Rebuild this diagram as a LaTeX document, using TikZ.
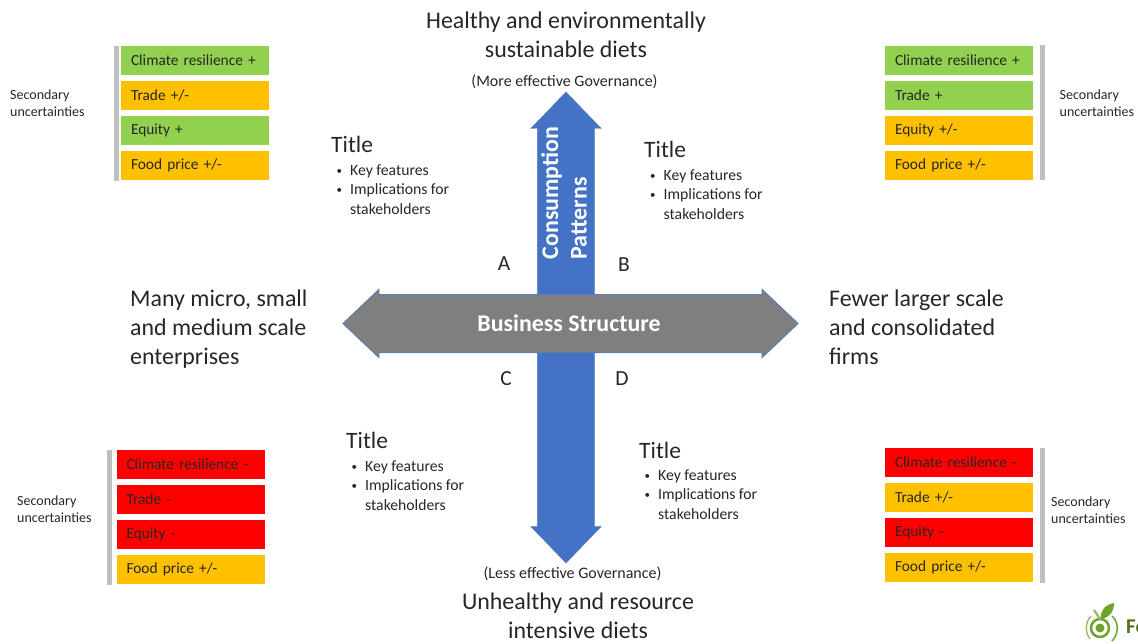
\documentclass[tikz,border=0pt]{standalone}
\usepackage{xcolor}
\usepackage{fontspec}
\setmainfont{Carlito}
\usepackage{tikz}
\usetikzlibrary{shapes.arrows}

\definecolor{okgreen}{HTML}{92D050}
\definecolor{midamber}{HTML}{FFC000}
\definecolor{badred}{HTML}{FF0000}
\definecolor{axisblue}{HTML}{4472C4}
\definecolor{axisgrey}{HTML}{7F7F7F}
\definecolor{axisedge}{HTML}{5B7DB1}
\definecolor{bargrey}{HTML}{BFBFBF}
\definecolor{inkgrey}{HTML}{262626}
\definecolor{logogreen}{HTML}{6FA32B}

\newcommand{\keydot}{\makebox[13.5pt][l]{\fontsize{11}{11}\selectfont\raisebox{1pt}{\textbullet}}}
\newcommand{\keylist}{\begin{tabular}{@{}l@{}l@{}}
\keydot & Key features\\
\keydot & Implications for\\
 & stakeholders
\end{tabular}}

\begin{document}
\begin{tikzpicture}[x=1pt,y=-1pt,node distance = 35pt,
  ubox/.style={rectangle,minimum width=148pt,minimum height=29pt,inner sep=0pt,text width=128pt,align=left,
    font=\fontsize{15.4}{18}\selectfont,text=inkgrey},
  vbar/.style={rectangle,fill=bargrey,minimum width=5pt,minimum height=135pt,inner sep=0pt},
  side/.style={align=left,anchor=west,inner sep=0pt,font=\fontsize{14}{17}\selectfont,text=inkgrey},
  big/.style={align=center,inner sep=0pt,font=\fontsize{23.9}{29}\selectfont,text=inkgrey},
  bigleft/.style={big,align=left,anchor=west},
  gov/.style={inner sep=0pt,font=\fontsize{16}{19}\selectfont,text=inkgrey},
  ttl/.style={inner sep=0pt,anchor=west,font=\fontsize{23.5}{28}\selectfont,text=inkgrey},
  keys/.style={inner sep=0pt,anchor=north west,font=\fontsize{15.7}{19.5}\selectfont,text=inkgrey},
  corner/.style={inner sep=0pt,font=\fontsize{21.5}{25}\selectfont,text=inkgrey},
  axistext/.style={inner sep=0pt,text=white,font=\bfseries\fontsize{23.9}{28.5}\selectfont}]
\useasboundingbox (0,0) rectangle (1138,643);

\node[double arrow,double arrow head extend=6.5pt,double arrow tip angle=88,fill=axisblue,draw=axisedge,inner xsep=0pt,inner ysep=28.5pt,
  minimum height=471pt,rotate=90] (V) at (566,327.5) {};
\node[double arrow,double arrow head extend=5pt,double arrow tip angle=87,fill=axisgrey,draw=axisedge,line width=1pt,inner xsep=0pt,inner ysep=28.5pt,
  minimum height=455pt] (H) at (570.5,323.5) {};
\node[axistext] (Hlabel) at (569,323.5) {Business Structure};
\node[axistext,align=left,rotate=90] (Vlabel) at (564,193) {Consumption\\Patterns};

\node[big] (Top) at (566,35) {Healthy and environmentally\\sustainable diets};
\node[gov] (More) at (564.5,82) {(More effective Governance)};
\node[gov] (Less) at (572.5,574) {(Less effective Governance)};
\node[big] (Bot) at (578,615.5) {Unhealthy and resource\\intensive diets};
\node[bigleft] (Left) at (130,329) {Many micro, small\\and medium scale\\enterprises};
\node[bigleft] (Right) at (829,327) {Fewer larger scale\\and consolidated\\firms};

\node[corner] (A) at (504,264) {A};
\node[corner] (B) at (624,265) {B};
\node[corner] (C) at (506,379) {C};
\node[corner] (D) at (622,379) {D};

\node[ttl] (TitleA) at (331,144) {Title};
\node[keys] (KeysA) at (336.5,161.5) {\keylist};
\node[ttl] (TitleB) at (644,149) {Title};
\node[keys] (KeysB) at (650,166.5) {\keylist};
\node[ttl] (TitleC) at (346,440) {Title};
\node[keys] (KeysC) at (351.5,457.5) {\keylist};
\node[ttl] (TitleD) at (639,450) {Title};
\node[keys] (KeysD) at (644.5,466.5) {\keylist};

% top left
\node[ubox,fill=okgreen] (A1) at (195,60.5) {Climate resilience +};
\node[ubox,fill=midamber] (A2) [below of = A1] {Trade +/-};
\node[ubox,fill=okgreen] (A3) [below of = A2] {Equity +};
\node[ubox,fill=midamber] (A4) [below of = A3] {Food price +/-};
\node[vbar] (Abar) at (116.5,113.5) {};
\node[side] (Aside) at (10,103.5) {Secondary\\uncertainties};

% top right
\node[ubox,fill=okgreen] (B1) at (959,60) {Climate resilience +};
\node[ubox,fill=okgreen] (B2) [below of = B1] {Trade +};
\node[ubox,fill=midamber] (B3) [below of = B2] {Equity +/-};
\node[ubox,fill=midamber] (B4) [below of = B3] {Food price +/-};
\node[vbar] (Bbar) at (1042.5,112.5) {};
\node[side] (Bside) at (1059.5,103.5) {Secondary\\uncertainties};

% bottom left
\node[ubox,fill=badred] (C1) at (190.5,464.5) {Climate resilience -};
\node[ubox,fill=badred] (C2) [below of = C1] {Trade -};
\node[ubox,fill=badred] (C3) [below of = C2] {Equity -};
\node[ubox,fill=midamber] (C4) [below of = C3] {Food price +/-};
\node[vbar] (Cbar) at (109.5,517.5) {};
\node[side] (Cside) at (17,509) {Secondary\\uncertainties};

% bottom right
\node[ubox,fill=badred] (D1) at (959,462.5) {Climate resilience -};
\node[ubox,fill=midamber] (D2) [below of = D1] {Trade +/-};
\node[ubox,fill=badred] (D3) [below of = D2] {Equity -};
\node[ubox,fill=midamber] (D4) [below of = D3] {Food price +/-};
\node[vbar] (Dbar) at (1042.5,515) {};
\node[side] (Dside) at (1051,510) {Secondary\\uncertainties};

% logo
\draw[logogreen,line width=2.5pt] (1100,628) circle (9pt);
\fill[logogreen] (1100,628) circle (4.5pt);
\draw[logogreen!70,line width=2.5pt] (1100,619) -- (1094,610);
\fill[logogreen] (1101,619) .. controls (1100,610) and (1105,605) .. (1114,603) .. controls (1114,612) and (1109,618) .. (1101,619);
\draw[logogreen!70,line width=1.5pt] (1091,616) .. controls (1085,622) and (1085,633) .. (1090,639);
\draw[logogreen,line width=1.5pt] (1112,616) .. controls (1119,622) and (1119,634) .. (1112,641);
\node[inner sep=0pt,anchor=west,text=logogreen!70!black,font=\bfseries\fontsize{21}{25}\selectfont] (Logo) at (1126,627) {Fo};
\end{tikzpicture}
\end{document}
